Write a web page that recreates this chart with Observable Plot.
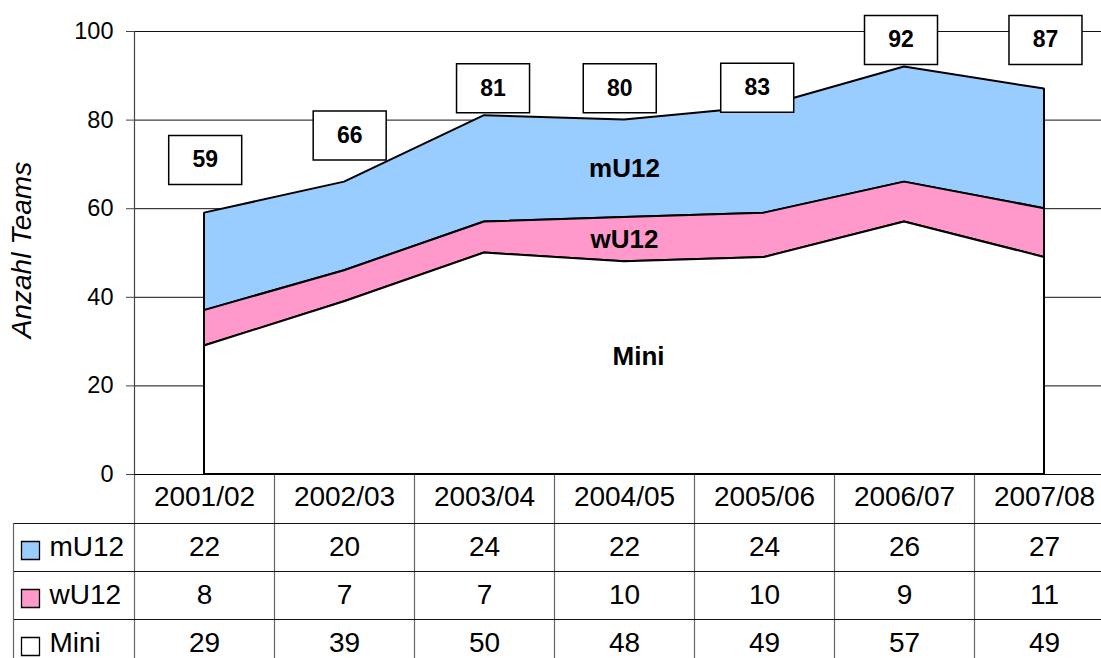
<!DOCTYPE html>
<html>
<head>
<meta charset="utf-8">
<script src="https://cdn.jsdelivr.net/npm/d3@7"></script>
<script src="https://cdn.jsdelivr.net/npm/@observablehq/plot@0.6"></script>
<style>
  html, body { margin: 0; padding: 0; background: #fff; overflow: hidden; }
  #wrap { position: relative; width: 1114px; height: 668px; font-family: "Liberation Sans", Arial, sans-serif; }
  #wrap svg { position: absolute; left: 0; }
</style>
</head>
<body>
<div id="wrap"></div>
<script>
// ---- data ----
const seasons = ["2001/02", "2002/03", "2003/04", "2004/05", "2005/06", "2006/07", "2007/08"];
const mU12 = [22, 20, 24, 22, 24, 26, 27];
const wU12 = [8, 7, 7, 10, 10, 9, 11];
const mini = [29, 39, 50, 48, 49, 57, 49];
const seriesNames = ["mU12", "wU12", "Mini"];          // table order (top to bottom)
const stackOrder = ["Mini", "wU12", "mU12"];           // stack order (bottom to top)
const yTicks = [0, 20, 40, 60, 80, 100];
// where the spreadsheet placed the total boxes (data units)
const totalLabelLevel = [71, 76.5, 87.2, 87.2, 87.3, 98.1, 98.1];
const totalLabelShift = [0.005, 0.037, 0.061, -0.034, -0.052, -0.025, 0.007];
const labelSeason = "2004/05";

const seriesValues = {mU12, wU12, Mini: mini};
const seriesColors = {mU12: "#99CCFF", wU12: "#FF99CC", Mini: "#FFFFFF"};
const long = seasons.flatMap((s, i) => seriesNames.map(name => ({i, season: s, series: name, value: seriesValues[name][i]})));
const totals = seasons.map((s, i) => ({i, season: s, total: mU12[i] + wU12[i] + mini[i],
  lx: i + totalLabelShift[i], level: totalLabelLevel[i]}));
const idx = seasons.map((s, i) => i);
const bounds = seasons.map((s, i) => i - 0.5);
const rows = seriesNames.map((name, r) => ({r, series: name}));
const cells = long.map(d => ({...d, r: seriesNames.indexOf(d.series)}));
const layerLabels = long.filter(d => d.season === labelSeason);

const FONT = "Liberation Sans, Arial, sans-serif";
const boxSymbol = {draw(ctx) { ctx.rect(-36.5, -24.5, 73, 49); }};
const swatchSymbol = {draw(ctx) { ctx.rect(-9, -9, 18, 18); }};

const W = 1114;
const chart = Plot.plot({
  width: W, height: 500,
  marginTop: 31, marginBottom: 26, marginLeft: 134, marginRight: 0,
  style: {maxWidth: "none", background: "transparent", fontFamily: FONT, overflow: "visible"},
  x: {type: "linear", domain: [-0.5, seasons.length - 0.5], axis: null, label: null},
  y: {domain: [0, 100], axis: null, label: null},
  color: {domain: seriesNames, range: seriesNames.map(n => seriesColors[n])},
  marks: [
    Plot.ruleY(yTicks.filter(t => t > 0), {stroke: "#111", strokeWidth: 1}),
    Plot.areaY(long, Plot.stackY({x: "i", y: "value", fill: "series", order: stackOrder,
      stroke: "#000", strokeWidth: 2, strokeLinejoin: "miter"})),
    Plot.text(layerLabels, Plot.stackY({x: "i", y: "value", z: "series", order: stackOrder,
      text: d => d.series !== "Mini" ? d.series : null,
      fontWeight: "bold", fontSize: 26, fill: "#000", fontFamily: FONT})),
    Plot.text(layerLabels, Plot.stackY({x: "i", y: "value", z: "series", order: stackOrder,
      text: d => d.series === "Mini" ? d.series : null, dx: 14, dy: -12,
      fontWeight: "bold", fontSize: 26, fill: "#000", fontFamily: FONT})),
    Plot.ruleY([0], {stroke: "#000", strokeWidth: 1.2}),
    Plot.ruleX([-0.5], {stroke: "#444", strokeWidth: 1.2}),
    Plot.axisY({ticks: yTicks, tickSize: 8, tickPadding: 13, fontSize: 23.5, stroke: "#444",
      label: null, fontFamily: FONT, fill: "#000"}),
    Plot.text(["Anzahl Teams"], {frameAnchor: "left", textAnchor: "middle", dx: -112, dy: -3, rotate: -90,
      fontSize: 28, fontStyle: "italic", fill: "#000", fontFamily: FONT}),
    Plot.dot(totals, {x: "lx", y: "level", symbol: boxSymbol, r: 5, fill: "#fff", stroke: "#000", strokeWidth: 1.5}),
    Plot.text(totals, {x: "lx", y: "level", text: "total", fontWeight: "bold", fontSize: 23, fill: "#000", fontFamily: FONT})
  ]
});
chart.style.top = "0px";

const table = Plot.plot({
  width: W, height: 49 + 3 * 48,
  marginTop: 49, marginBottom: 0, marginLeft: 13, marginRight: 0,
  style: {maxWidth: "none", background: "transparent", fontFamily: FONT, overflow: "visible"},
  x: {type: "linear", domain: [-0.5, seasons.length - 0.5], range: [134, W], axis: null, label: null},
  y: {domain: [0, 3], reverse: true, axis: null, label: null},
  marks: [
    Plot.ruleX(bounds, {stroke: "#666", strokeWidth: 1.2}),
    Plot.axisX(bounds, {anchor: "top", tickSize: 49, tickFormat: () => "", label: null, stroke: "#666", strokeWidth: 1.2}),
    Plot.ruleY([0, 1, 2], {stroke: "#111", strokeWidth: 1.2}),
    Plot.frame({anchor: "left", stroke: "#666", strokeWidth: 1.2}),
    Plot.text(idx, {x: d => d, frameAnchor: "top", dy: -26, lineAnchor: "middle", text: i => seasons[i],
      fontSize: 28, fill: "#000", fontFamily: FONT}),
    Plot.text(cells, {x: "i", y: d => d.r + 0.5, text: "value", fontSize: 28, lineAnchor: "middle",
      fill: "#000", fontFamily: FONT}),
    Plot.dot(rows, {y: d => d.r + 0.5, frameAnchor: "left", dx: 17, dy: 3, symbol: swatchSymbol, r: 5,
      fill: d => seriesColors[d.series], stroke: "#000", strokeWidth: 1.3}),
    Plot.text(rows, {y: d => d.r + 0.5, frameAnchor: "left", dx: 36, text: "series", textAnchor: "start",
      lineAnchor: "middle", fontSize: 28, fill: "#000", fontFamily: FONT})
  ]
});
table.style.top = "474px";

const wrap = document.getElementById("wrap");
wrap.appendChild(chart);
wrap.appendChild(table);
</script>
</body>
</html>
